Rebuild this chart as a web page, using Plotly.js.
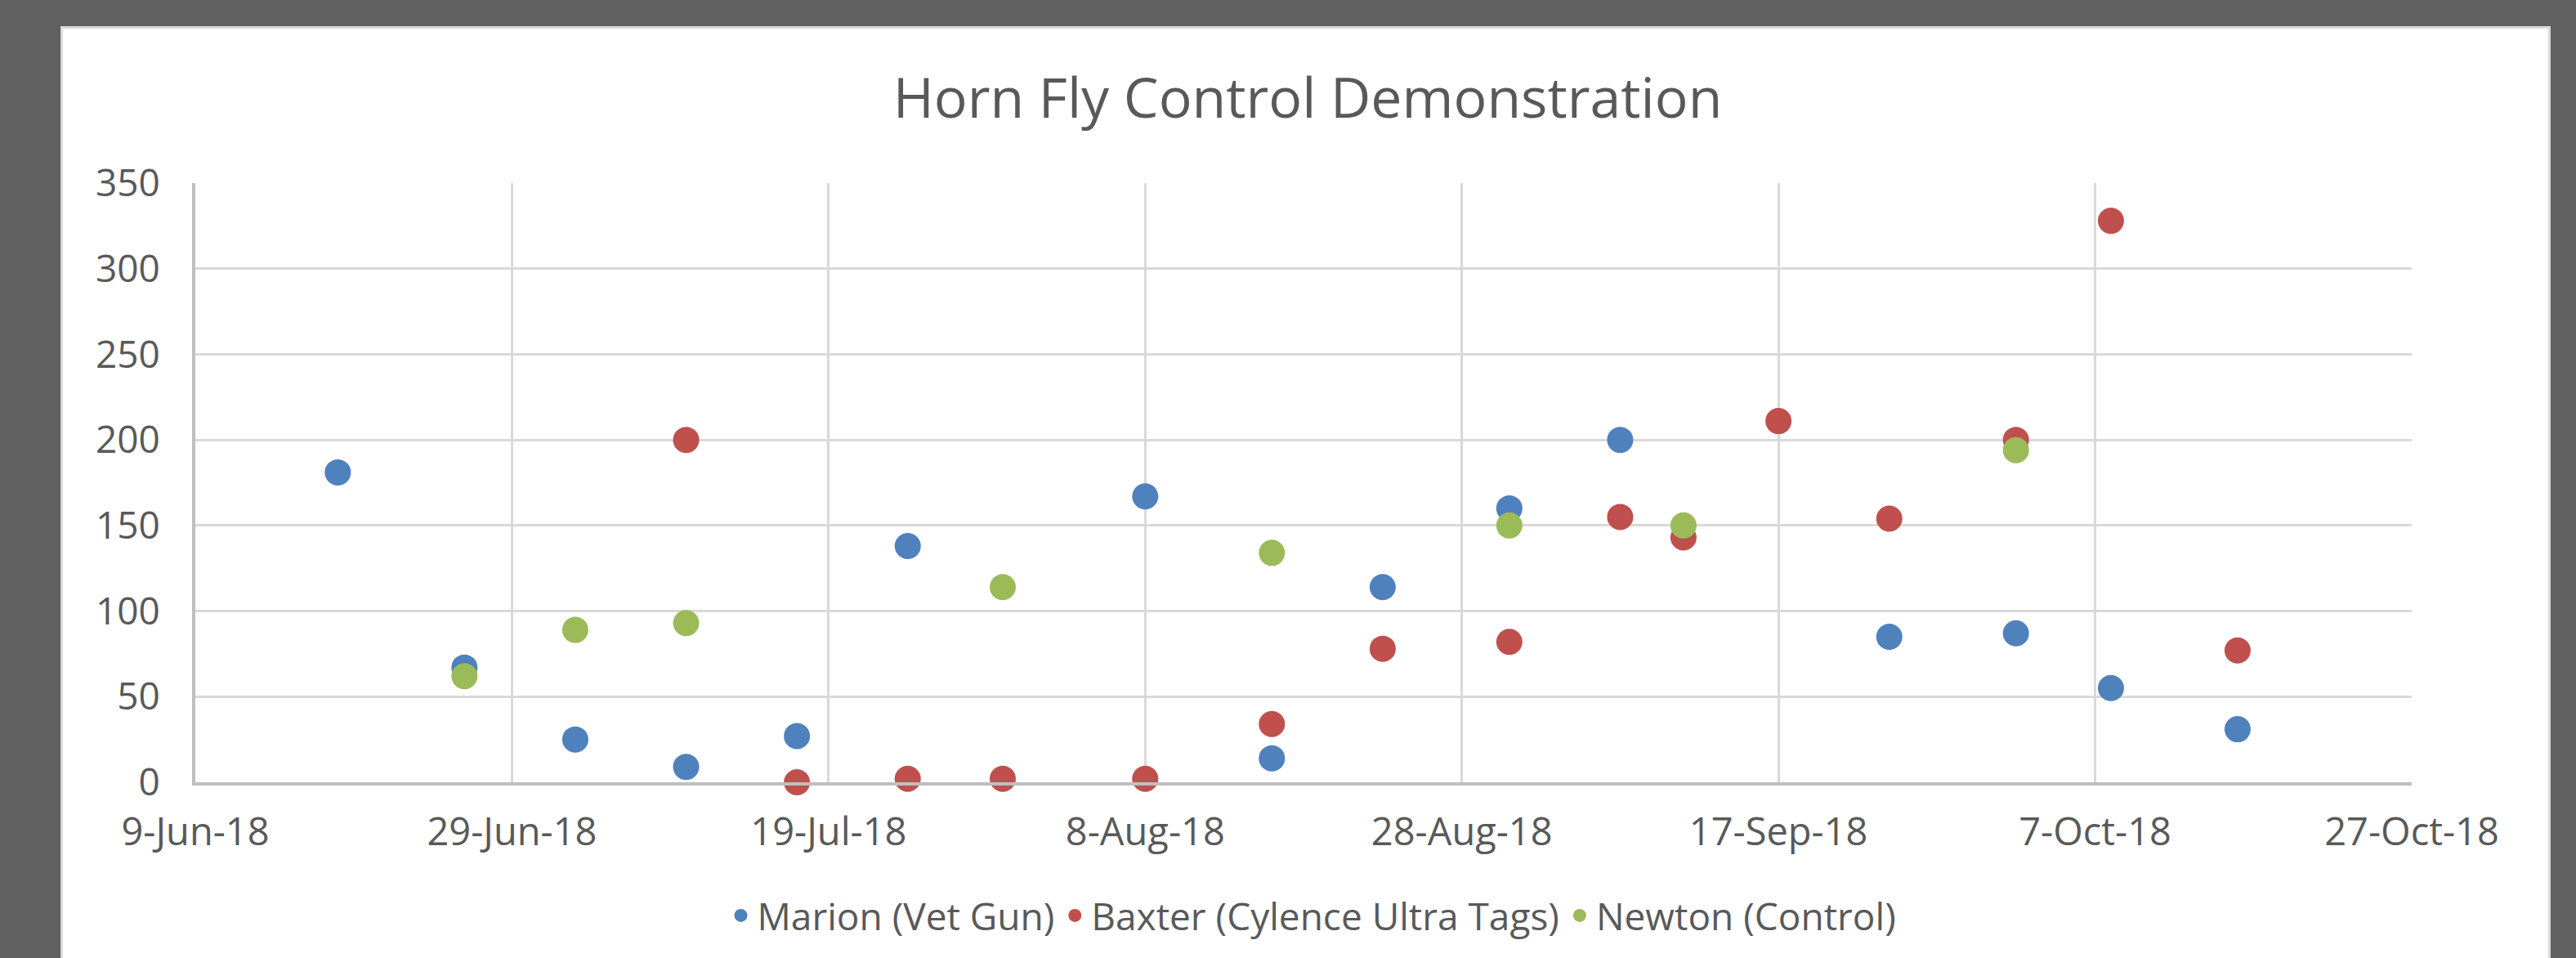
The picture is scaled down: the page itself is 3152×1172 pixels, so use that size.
<!DOCTYPE html>
<html>
<head>
<meta charset="utf-8">
<script src="https://cdn.plot.ly/plotly-3.0.1.min.js"></script>
<style>
  html, body { margin: 0; padding: 0; width: 3152px; height: 1172px; overflow: hidden; background: #606060; }
  #panel { position: absolute; left: 74px; top: 32px; width: 3041px; height: 1140px; background: #ffffff;
           border-top: 3px solid #d9d9d9; border-left: 3px solid #d9d9d9; border-right: 3px solid #d9d9d9; }
  #chart { position: absolute; left: 0; top: 0; width: 3152px; height: 1172px; }
</style>
</head>
<body>
<div id="panel"></div>
<div id="chart"></div>
<script>
// Marion (Vet Gun)
const marionDates = ['2018-06-18','2018-06-26','2018-07-03','2018-07-10','2018-07-17','2018-07-24','2018-08-08','2018-08-16','2018-08-23','2018-08-31','2018-09-07','2018-09-24','2018-10-02','2018-10-08','2018-10-16'];
const marionValues = [181, 67, 25, 9, 27, 138, 167, 14, 114, 160, 200, 85, 87, 55, 31];

// Baxter (Cylence Ultra Tags)
const baxterDates = ['2018-07-10','2018-07-17','2018-07-24','2018-07-30','2018-08-08','2018-08-16','2018-08-23','2018-08-31','2018-09-07','2018-09-11','2018-09-17','2018-09-24','2018-10-02','2018-10-08','2018-10-16'];
const baxterValues = [200, 0, 2, 2, 2, 34, 78, 82, 155, 143, 211, 154, 200, 328, 77];

// Newton (Control)
const newtonDates = ['2018-06-26','2018-07-03','2018-07-10','2018-07-30','2018-08-16','2018-08-31','2018-09-11','2018-10-02'];
const newtonValues = [62, 89, 93, 114, 134, 150, 150, 194];

const seriesNames = ['Marion (Vet Gun)', 'Baxter (Cylence Ultra Tags)', 'Newton (Control)'];
const seriesColors = ['#4F81BD', '#C0504D', '#9BBB59'];

const chartTitle = 'Horn Fly Control Demonstration';
const xRange = ['2018-06-09', '2018-10-27'];
const yRange = [0, 350];

const textColor = '#595959';
const fontFamily = '"Open Sans", "Noto Sans", sans-serif';

function mk(x, y, i) {
  return {
    type: 'scatter', mode: 'markers', x: x, y: y, name: seriesNames[i],
    marker: { color: seriesColors[i], size: 32, line: { width: 0 } },
    cliponaxis: false
  };
}

const data = [
  mk(marionDates, marionValues, 0),
  mk(baxterDates, baxterValues, 1),
  mk(newtonDates, newtonValues, 2)
];

const layout = {
  width: 3152, height: 1172,
  paper_bgcolor: 'rgba(0,0,0,0)',
  plot_bgcolor: 'rgba(0,0,0,0)',
  margin: { l: 239, r: 201, t: 224, b: 215, pad: 0 },
  font: { family: fontFamily, color: textColor, size: 46 },
  title: {
    text: chartTitle,
    font: { family: fontFamily, size: 68, color: textColor },
    x: 1600 / 3152, xanchor: 'center', xref: 'container',
    y: 1 - 120 / 1172, yanchor: 'middle', yref: 'container'
  },
  xaxis: {
    type: 'date',
    range: xRange,
    tick0: xRange[0],
    dtick: 20 * 86400000,
    tickformat: '%-d-%b-%y',
    showgrid: true, gridcolor: '#D9D9D9', gridwidth: 3,
    showline: true, linecolor: '#BFBFBF', linewidth: 4,
    zeroline: false,
    ticks: '', ticklabelstandoff: 17,
    tickfont: { family: fontFamily, size: 47, color: textColor },
    fixedrange: true
  },
  yaxis: {
    range: yRange,
    dtick: 50,
    showgrid: true, gridcolor: '#D9D9D9', gridwidth: 3,
    showline: true, linecolor: '#BFBFBF', linewidth: 4,
    zeroline: false,
    ticks: '', ticklabelstandoff: 30,
    tickfont: { family: fontFamily, size: 46, color: textColor },
    fixedrange: true
  },
  showlegend: true,
  legend: {
    orientation: 'h',
    x: 1606 / 3152, xanchor: 'center', xref: 'container',
    y: 1 - 1120 / 1172, yanchor: 'middle', yref: 'container',
    font: { family: fontFamily, size: 46, color: textColor },
    bgcolor: 'rgba(0,0,0,0)',
    itemwidth: 30
  },
  hovermode: false
};

Plotly.newPlot('chart', data, layout, { displayModeBar: false, staticPlot: true });
</script>
</body>
</html>
